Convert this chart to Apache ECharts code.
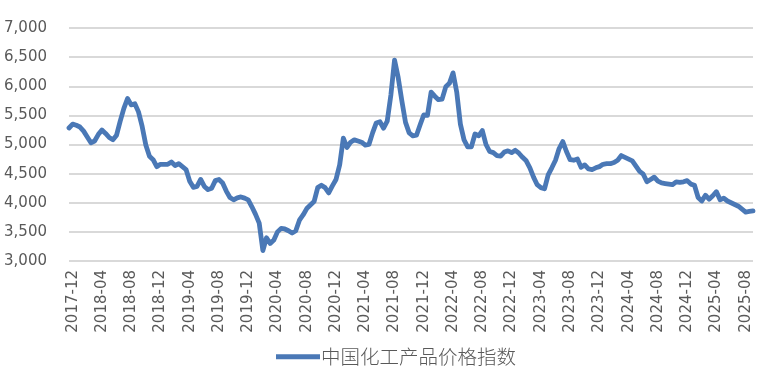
<!DOCTYPE html>
<html>
<head>
<meta charset="utf-8">
<script src="https://cdn.jsdelivr.net/npm/echarts@6/dist/echarts.min.js"></script>
<style>html,body{margin:0;padding:0;background:#fff}#c{width:772px;height:385px}</style>
</head>
<body>
<div id="c"></div>
<script>
// Semi-monthly readings (1st and 16th of each month), starting 2017-11-16
const values2018 = [5283,5350,5330,5300,5230,5130,5030,5060,5170,5250,5190,5120,5080,5160,5400,5620,
                    5790,5680,5700,5560,5310,4990,4800,4740,4620,4660,4660,4660,4700,4640,4670,4620];
const values2019 = [4570,4370,4265,4280,4400,4280,4225,4250,4380,4400,4340,4200,4090,4050,4085,4100,
                    4080,4050,3930,3800,3650,3180,3400,3300,3360,3500,3560,3550,3520,3480,3520,3700];
const values2021 = [3790,3900,3960,4020,4260,4300,4260,4170,4290,4400,4650,5110,4950,5040,5080,5060,
                    5040,4990,5000,5200,5370,5390,5280,5400,5850,6450,6150,5750,5380,5200,5150,5160];
const values2022 = [5340,5510,5500,5900,5830,5770,5780,5990,6050,6230,5900,5350,5080,4960,4960,
                    5180,5150,5240,5000,4880,4860,4810,4800,4870,4890,4860,4900,4850,4780,4720];
const values2023 = [4600,4440,4310,4260,4240,4480,4600,4730,4930,5050,4880,4740,4730,4750,4610,4650,
                    4580,4570,4600,4620,4660,4670,4670,4690,4730,4810,4780,4750,4720,4630,4540,4490,
                    4360,4400,4440,4370,4340,4330,4320,4310,4360,4350,4360,4380,4320,4300,4090,4030,
                    4130,4060,4120,4190,4050,4080,4030,4000,3970,3940,3890,3840,3850,3860];
const seriesName = '中国化工产品价格指数';
const yTicks = {min: 3000, max: 7000, interval: 500};

const values = [].concat(values2018, values2019, values2021, values2022, values2023);
const dates = [];
for (let k = 0; k < values.length; k++) {
  let off, day;
  if (k % 2 === 0) { off = k / 2; day = '16'; } else { off = (k + 1) / 2; day = '01'; }
  const total = 2017 * 12 + 10 + off; // 2017-11 => month index 10 (0-based)
  const y = Math.floor(total / 12), m = total % 12 + 1;
  dates.push(y + '-' + String(m).padStart(2, '0') + '-' + day);
}

const chart = echarts.init(document.getElementById('c'), null, {renderer: 'canvas'});
const gray = '#595959';
const blue = '#4a78b6';
chart.setOption({
  animation: false,
  grid: {left: 69, right: 19, top: 28, bottom: 124, containLabel: false},
  xAxis: {
    type: 'category',
    data: dates,
    boundaryGap: false,
    axisLine: {show: false},
    axisTick: {show: false},
    splitLine: {show: false},
    axisLabel: {
      rotate: 90,
      margin: 9,
      color: gray,
      fontFamily: 'DejaVu Sans',
      fontSize: 15,
      interval: function (i, v) {
        const mm = v.slice(5, 7);
        return v.slice(8) === '01' && (mm === '12' || mm === '04' || mm === '08');
      },
      formatter: function (v) { return v.slice(0, 7); }
    }
  },
  yAxis: {
    type: 'value',
    min: yTicks.min, max: yTicks.max, interval: yTicks.interval,
    axisLine: {show: false},
    axisTick: {show: false},
    splitLine: {lineStyle: {color: '#d9d9d9', width: 2}},
    axisLabel: {
      margin: 22,
      color: gray,
      fontFamily: 'DejaVu Sans',
      fontSize: 15,
      formatter: function (v) { return v.toLocaleString('en-US'); }
    }
  },
  legend: {
    data: [{name: seriesName, icon: 'rect'}],
    left: 271,
    top: 342,
    itemWidth: 44,
    itemHeight: 5,
    itemGap: 0,
    textStyle: {color: gray, fontSize: 19.5, fontFamily: 'Noto Sans CJK SC', fontWeight: 300, padding: [0, 0, 0, -4]}
  },
  series: [{
    name: seriesName,
    type: 'line',
    data: values,
    showSymbol: false,
    symbol: 'none',
    itemStyle: {color: blue},
    lineStyle: {color: blue, width: 4.8, cap: 'round', join: 'round'}
  }]
});
</script>
</body>
</html>
